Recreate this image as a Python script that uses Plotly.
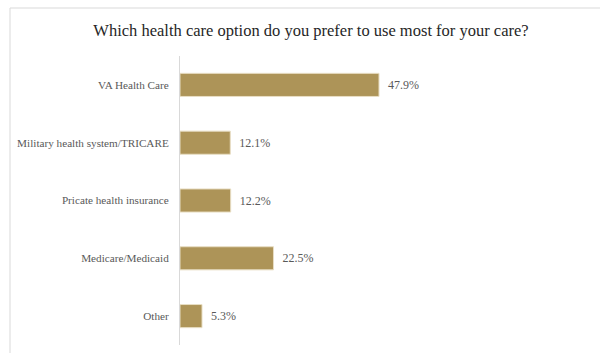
import plotly.graph_objects as go

categories = ["VA Health Care", "Military health system/TRICARE", "Pricate health insurance",
              "Medicare/Medicaid", "Other"]
values = [47.9, 12.1, 12.2, 22.5, 5.3]

W, H = 600, 353
ml, mr, mt, mb = 180, 4, 56, 8
pw = W - ml - mr
ph = H - mt - mb

fig = go.Figure(go.Bar(
    y=categories, x=values, orientation="h",
    texttemplate="\u00a0\u00a0%{x:.1f}%", textposition="outside", cliponaxis=False,
    textfont=dict(family="Liberation Serif", size=12, color="#595959"),
    marker=dict(color="#AD9458", line=dict(color="#E8DEC4", width=1)),
    width=0.4,
))

fig.update_layout(
    width=W, height=H, margin=dict(l=ml, r=mr, t=mt, b=mb),
    paper_bgcolor="white", plot_bgcolor="white", showlegend=False,
    title=dict(text="Which health care option do you prefer to use most for your care?",
               x=311 / W, xanchor="center", y=1 - 30 / H, yanchor="middle",
               font=dict(family="Liberation Serif", size=16.5, color="#262626")),
    xaxis=dict(range=[0, pw / (199 / 47.9)], visible=False, showgrid=False, zeroline=False),
    yaxis=dict(autorange="reversed", showline=True, linecolor="#D9D9D9", linewidth=1,
               ticks="", ticklabelstandoff=8, showgrid=False,
               tickfont=dict(family="Liberation Serif", size=11.2, color="#595959")),
    shapes=[
        dict(type="line", xref="paper", yref="paper",
             x0=(10 - ml) / pw, x1=(10 - ml) / pw, y0=1 + (mt - 8) / ph, y1=-1,
             line=dict(color="#D9D9D9", width=1)),
        dict(type="line", xref="paper", yref="paper",
             x0=(10 - ml) / pw, x1=2, y0=1 + (mt - 8) / ph, y1=1 + (mt - 8) / ph,
             line=dict(color="#D9D9D9", width=1)),
    ],
)

fig.write_html("out.html")
